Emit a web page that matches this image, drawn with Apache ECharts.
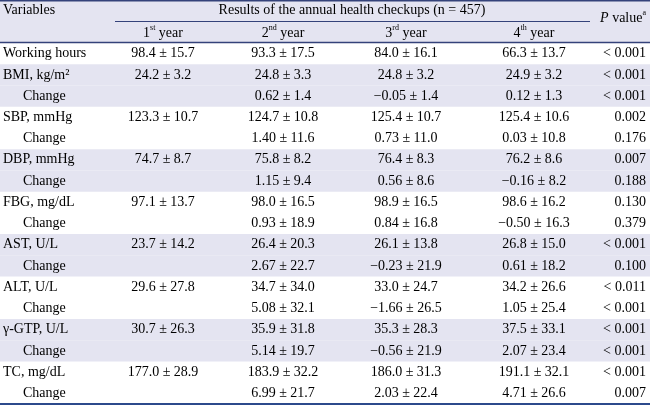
<!DOCTYPE html>
<html>
<head>
<meta charset="utf-8">
<script src="https://cdn.jsdelivr.net/npm/echarts@6/dist/echarts.min.js"></script>
<style>
  html, body { margin: 0; padding: 0; background: #fff; }
  #main { width: 650px; height: 406px; }
</style>
</head>
<body>
<div id="main"></div>
<script>
const variables = [
  'Working hours', 'BMI, kg/m²', 'Change', 'SBP, mmHg', 'Change', 'DBP, mmHg', 'Change',
  'FBG, mg/dL', 'Change', 'AST, U/L', 'Change', 'ALT, U/L', 'Change', 'γ-GTP, U/L', 'Change',
  'TC, mg/dL', 'Change'
];
const year1 = [
  '98.4 ± 15.7', '24.2 ± 3.2', '', '123.3 ± 10.7', '', '74.7 ± 8.7', '',
  '97.1 ± 13.7', '', '23.7 ± 14.2', '', '29.6 ± 27.8', '', '30.7 ± 26.3', '',
  '177.0 ± 28.9', ''
];
const year2 = [
  '93.3 ± 17.5', '24.8 ± 3.3', '0.62 ± 1.4', '124.7 ± 10.8', '1.40 ± 11.6', '75.8 ± 8.2', '1.15 ± 9.4',
  '98.0 ± 16.5', '0.93 ± 18.9', '26.4 ± 20.3', '2.67 ± 22.7', '34.7 ± 34.0', '5.08 ± 32.1', '35.9 ± 31.8', '5.14 ± 19.7',
  '183.9 ± 32.2', '6.99 ± 21.7'
];
const year3 = [
  '84.0 ± 16.1', '24.8 ± 3.2', '−0.05 ± 1.4', '125.4 ± 10.7', '0.73 ± 11.0', '76.4 ± 8.3', '0.56 ± 8.6',
  '98.9 ± 16.5', '0.84 ± 16.8', '26.1 ± 13.8', '−0.23 ± 21.9', '33.0 ± 24.7', '−1.66 ± 26.5', '35.3 ± 28.3', '−0.56 ± 21.9',
  '186.0 ± 31.3', '2.03 ± 22.4'
];
const year4 = [
  '66.3 ± 13.7', '24.9 ± 3.2', '0.12 ± 1.3', '125.4 ± 10.6', '0.03 ± 10.8', '76.2 ± 8.6', '−0.16 ± 8.2',
  '98.6 ± 16.2', '−0.50 ± 16.3', '26.8 ± 15.0', '0.61 ± 18.2', '34.2 ± 26.6', '1.05 ± 25.4', '37.5 ± 33.1', '2.07 ± 23.4',
  '191.1 ± 32.1', '4.71 ± 26.6'
];
const pValues = [
  '< 0.001', '< 0.001', '< 0.001', '0.002', '0.176', '0.007', '0.188',
  '0.130', '0.379', '< 0.001', '0.100', '< 0.011', '< 0.001', '< 0.001', '< 0.001',
  '< 0.001', '0.007'
];
const yearLabels = [['1', 'st'], ['2', 'nd'], ['3', 'rd'], ['4', 'th']];

// column anchors (layout only)
const colX = [3, 163, 283, 406, 534, 646];
const colAlign = ['left', 'center', 'center', 'center', 'center', 'right'];
const FONT = '"Liberation Serif", "Times New Roman", serif';
const SHADE = '#e4e4f1';
const RULE = '#34427a';
const INK = '#000';

const columns = [variables, year1, year2, year3, year4, pValues];
const rowIdx = variables.map((v, i) => i);

const chart = echarts.init(document.getElementById('main'), null, { renderer: 'canvas' });

function renderRow(params, api) {
  const i = api.value(0);
  const p = api.coord([0, i]);
  const h = api.size([0, 1])[1];
  const children = [];
  const group = Math.floor((i + 1) / 2);
  if (group % 2 === 1) {
    children.push({
      type: 'rect',
      shape: { x: 0, y: p[1] - h / 2, width: 650, height: h },
      style: { fill: SHADE },
      silent: true
    });
  }
  columns.forEach((col, c) => {
    let txt = col[i];
    if (!txt) return;
    let x = api.coord([colX[c], i])[0];
    if (c === 0 && txt === 'Change') x += 20;
    children.push({
      type: 'text',
      x: x,
      y: p[1],
      style: {
        text: txt,
        fill: INK,
        font: '14px ' + FONT,
        align: colAlign[c],
        verticalAlign: 'middle'
      }
    });
  });
  return { type: 'group', children: children };
}

function yearText(y) {
  return '{n|' + y[0] + '}{s|' + y[1] + '}{n| year}';
}
const headerRich = {
  n: { fontSize: 14, fontFamily: FONT, color: INK, lineHeight: 16, verticalAlign: 'bottom' },
  s: { fontSize: 8, fontFamily: FONT, color: INK, lineHeight: 16, verticalAlign: 'top' },
  i: { fontSize: 14, fontFamily: FONT, fontStyle: 'italic', color: INK, lineHeight: 16, verticalAlign: 'bottom' }
};

const graphics = [
  { type: 'rect', shape: { x: 0, y: 0, width: 650, height: 43 }, style: { fill: SHADE }, z: -1 },
  { type: 'text', x: 3, y: 10, style: { text: 'Variables', font: '14px ' + FONT, fill: INK, verticalAlign: 'middle' } },
  { type: 'text', x: 352, y: 10, style: { text: 'Results of the annual health checkups (n = 457)', font: '14px ' + FONT, fill: INK, align: 'center', verticalAlign: 'middle' } },
  { type: 'text', x: 646, y: 17, style: { text: '{i|P}{n| value}{s|a}', rich: headerRich, align: 'right', verticalAlign: 'middle' } },
  { type: 'line', shape: { x1: 0, y1: 0.75, x2: 650, y2: 0.75 }, style: { stroke: RULE, lineWidth: 1.5 } },
  { type: 'line', shape: { x1: 115, y1: 21.5, x2: 590, y2: 21.5 }, style: { stroke: RULE, lineWidth: 1.2 } },
  { type: 'line', shape: { x1: 0, y1: 42.5, x2: 650, y2: 42.5 }, style: { stroke: RULE, lineWidth: 1.5 } },
  { type: 'line', shape: { x1: 0, y1: 404, x2: 650, y2: 404 }, style: { stroke: '#2c4a8c', lineWidth: 2 } }
];
yearLabels.forEach((y, k) => {
  graphics.push({
    type: 'text', x: colX[k + 1], y: 32,
    style: { text: yearText(y), rich: headerRich, align: 'center', verticalAlign: 'middle' }
  });
});

chart.setOption({
  animation: false,
  grid: { left: 0, right: 0, top: 43, bottom: 2 },
  xAxis: { type: 'value', min: 0, max: 650, show: false },
  yAxis: { type: 'category', data: rowIdx, inverse: true, show: false },
  graphic: graphics,
  series: [{
    type: 'custom',
    renderItem: renderRow,
    data: rowIdx.map(i => [i]),
    encode: { y: 0 },
    clip: false
  }]
});

window.addEventListener('resize', () => chart.resize());
</script>
</body>
</html>
